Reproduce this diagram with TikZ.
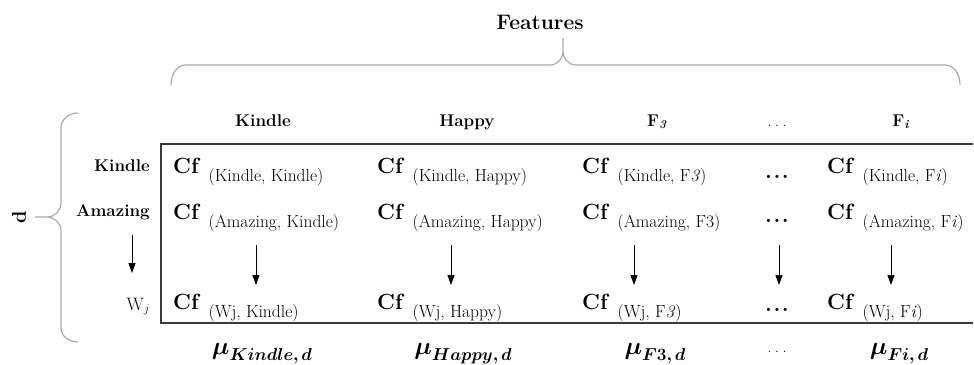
\documentclass[tikz,border=0pt]{standalone}
\usepackage{amsmath,amssymb}
\usepackage{bm}
\usepackage{xcolor}
\usepackage{tikz}
\usetikzlibrary{positioning, arrows.meta, calc}

\definecolor{framegray}{HTML}{3A3A3A}
\definecolor{bracegray}{HTML}{AAAAAA}

\newcommand{\cfentry}[1]{{\fontsize{22}{25}\selectfont\bfseries Cf}\hspace{10pt}\raisebox{-8pt}{\fontsize{17.5}{20}\selectfont(#1)}}
\newcommand{\muentry}[1]{{\fontsize{23}{27}\selectfont$\bm{\mu}$}\raisebox{-6pt}{\fontsize{18}{21}\selectfont$\bm{#1}$}}
\newcommand{\lightdots}{.\hspace{3.5pt}.\hspace{3.5pt}.}
\newcommand{\heavydots}{.\hspace{1.5pt}.\hspace{1.5pt}.}

\begin{document}
\begin{tikzpicture}[
    x=1pt, y=1pt,
    hdr/.style={font=\fontsize{17}{20}\selectfont\bfseries, anchor=base, inner sep=0},
    rowlbl/.style={font=\fontsize{17}{20}\selectfont\bfseries, anchor=base east, inner sep=0},
    entry/.style={anchor=base west, inner sep=0},
    rowdots/.style={font=\fontsize{22}{26}\selectfont\bfseries, anchor=base, inner sep=0},
    thindots/.style={font=\fontsize{16}{19}\selectfont, anchor=base, inner sep=0},
    mu/.style={anchor=base, inner sep=0},
    arrow/.style={-{Triangle[length=10pt, width=7pt]}, line width=0.9pt},
    brace/.style={draw=bracegray, line width=1.2pt},
    frame/.style={draw=framegray, line width=1.8pt}
]
\useasboundingbox (0,0) rectangle (974,-364);

% Top: features brace
\node[font=\fontsize{21}{25}\selectfont\bfseries, anchor=base, inner sep=0] (features) at (540,-29) {Features};
\draw[brace] (171,-85) to[out=90,in=180] (186,-65) -- (550,-65) to[out=0,in=-90] (563,-51) -- (563,-38)
    (563,-51) to[out=-90,in=180] (576,-65) -- (945,-65) to[out=0,in=90] (960,-85);

% Left: document brace
\node[font=\fontsize{20}{24}\selectfont\bfseries, rotate=90, inner sep=0] (doc_d) at (19,-217) {d};
\draw[brace] (78,-113) to[out=180,in=90] (61,-128) -- (61,-203) to[out=-90,in=0] (47,-217) -- (35,-217)
    (47,-217) to[out=0,in=90] (61,-231) -- (61,-328) to[out=-90,in=180] (78,-342);

% Column headers
\node[hdr] (hdr_kindle) at (263,-126) {Kindle};
\node[hdr] (hdr_happy) at (467,-126) {Happy};
\node[hdr] (hdr_f3) at (657,-126) {F\textsubscript{\textit{3}}};
\node[thindots] (hdr_dots) at (777,-126) {\lightdots};
\node[hdr] (hdr_fi) at (901,-126) {F\textsubscript{\textit{i}}};

% Row labels
\node[rowlbl] (row_kindle) at (150,-171) {Kindle};
\node[rowlbl] (row_amazing) at (150,-216) {Amazing};
\node[rowlbl, font=\fontsize{18}{21}\selectfont] (row_wj) at (150,-310) {W$_j$};
\coordinate (row_top) at (132,-235);
\coordinate (row_bot) at (132,-273);
\draw[arrow] (row_top) -- (row_bot);

% Matrix frame
\draw[frame] (973,-144) -- (161,-144) -- (161,-323) -- (973,-323);

% Row 1
\node[entry] (cf_kk) at (173,-173) {\cfentry{Kindle, Kindle}};
\node[entry] (cf_kh) at (377,-173) {\cfentry{Kindle, Happy}};
\node[entry] (cf_kf) at (582,-173) {\cfentry{Kindle, F\textit{3}}};
\node[rowdots] (dots_k) at (777,-178) {\heavydots};
\node[entry] (cf_ki) at (827,-173) {\cfentry{Kindle, F\textit{i}}};

% Row 2
\node[entry] (cf_ak) at (173,-219) {\cfentry{Amazing, Kindle}};
\node[entry] (cf_ah) at (377,-219) {\cfentry{Amazing, Happy}};
\node[entry] (cf_af) at (582,-219) {\cfentry{Amazing, F3}};
\node[rowdots] (dots_a) at (777,-222) {\heavydots};
\node[entry] (cf_ai) at (827,-219) {\cfentry{Amazing, F\textit{i}}};

% Row 3
\node[entry] (cf_wk) at (173,-309) {\cfentry{Wj, Kindle}};
\node[entry] (cf_wh) at (377,-309) {\cfentry{Wj, Happy}};
\node[entry] (cf_wf) at (582,-309) {\cfentry{Wj, F\textit{3}}};
\node[rowdots] (dots_w) at (777,-311) {\heavydots};
\node[entry] (cf_wi) at (827,-309) {\cfentry{Wj, F\textit{i}}};

% Column arrows
\coordinate (arr_k1) at (256,-245); \coordinate (arr_k2) at (256,-285);
\coordinate (arr_h1) at (451,-245); \coordinate (arr_h2) at (451,-285);
\coordinate (arr_f1) at (634,-245); \coordinate (arr_f2) at (634,-285);
\coordinate (arr_d1) at (779,-245); \coordinate (arr_d2) at (779,-285);
\coordinate (arr_i1) at (891,-245); \coordinate (arr_i2) at (891,-285);
\draw[arrow] (arr_k1) -- (arr_k2);
\draw[arrow] (arr_h1) -- (arr_h2);
\draw[arrow] (arr_f1) -- (arr_f2);
\draw[arrow] (arr_d1) -- (arr_d2);
\draw[arrow] (arr_i1) -- (arr_i2);

% Bottom: means
\node[mu] (mu_kindle) at (262,-354) {\muentry{Kindle,d}};
\node[mu] (mu_happy) at (463,-354) {\muentry{Happy,d}};
\node[mu] (mu_f3) at (655,-354) {\muentry{F3,d}};
\node[thindots] (mu_dots) at (777,-352) {\lightdots};
\node[mu] (mu_fi) at (899,-354) {\muentry{Fi,d}};

\end{tikzpicture}
\end{document}
